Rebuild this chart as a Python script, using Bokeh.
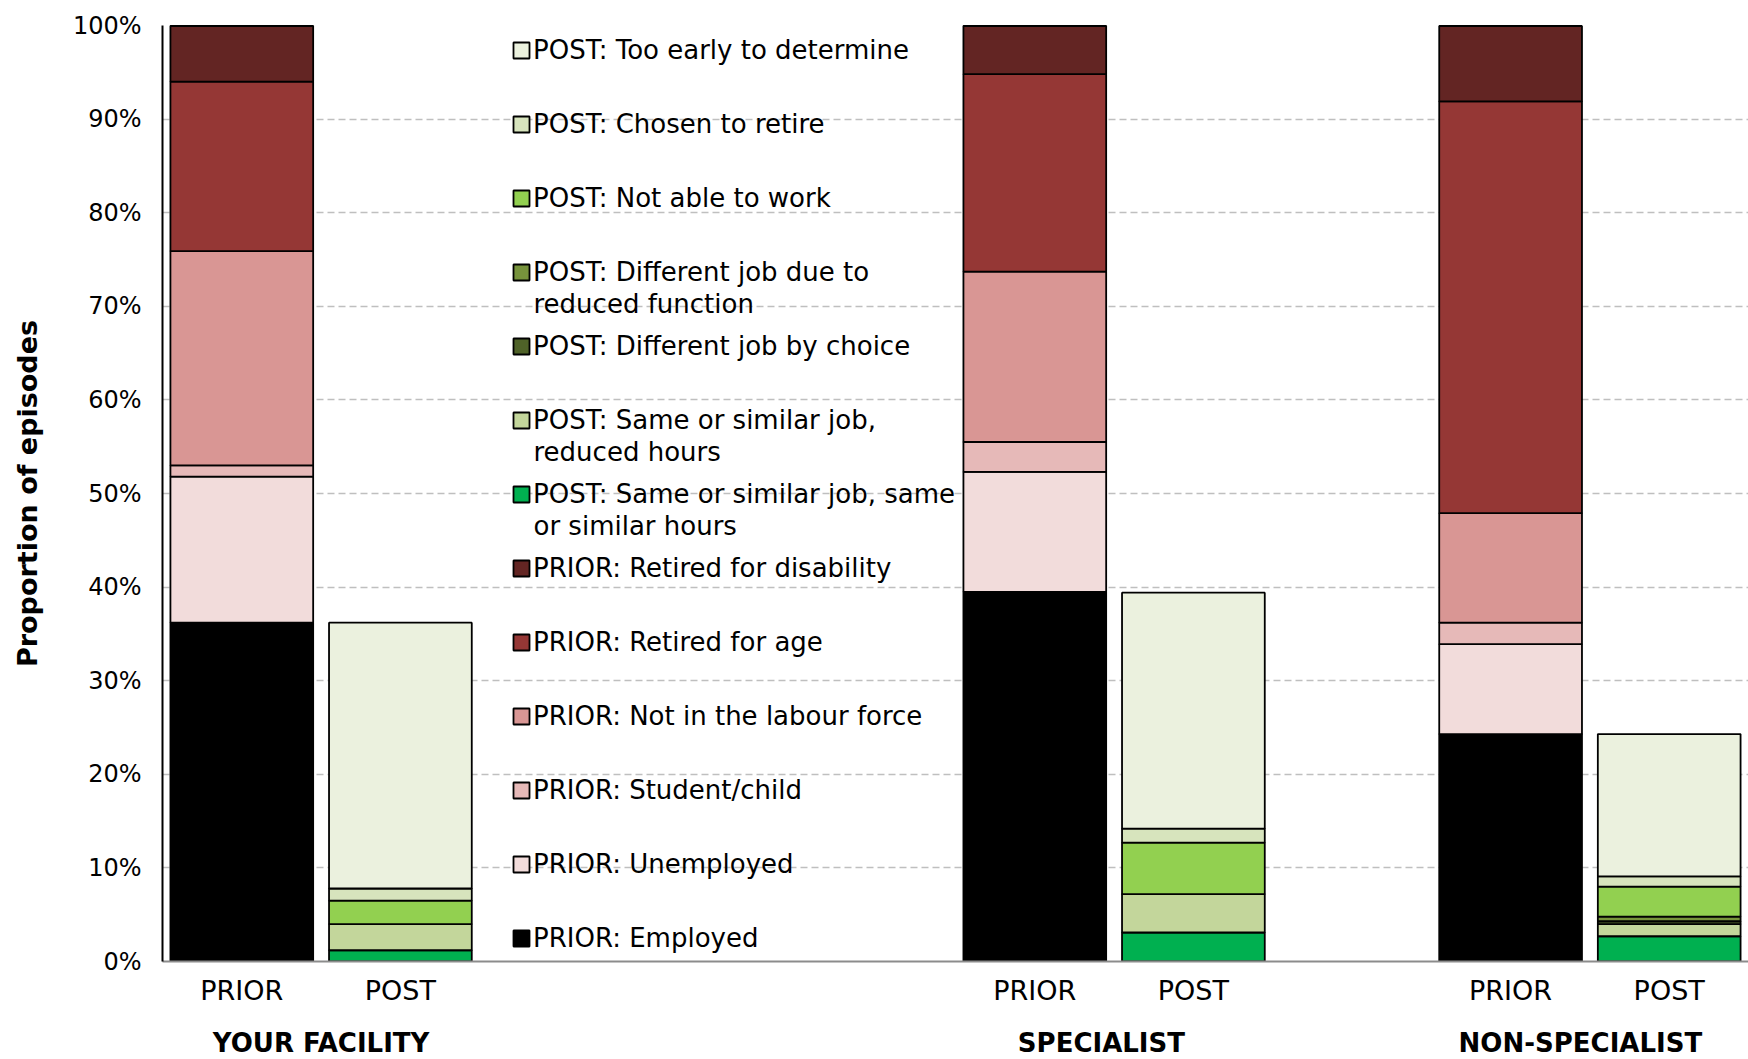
from bokeh.plotting import figure
from bokeh.models import (Range1d, FixedTicker, PrintfTickFormatter, LinearAxis,
                          Legend, LegendItem, ColumnDataSource, Label)
from bokeh.embed import file_html
from bokeh.resources import INLINE

# ---------------- data ----------------
groups = ["YOUR FACILITY", "SPECIALIST", "NON-SPECIALIST"]
periods = ["PRIOR", "POST"]

# PRIOR series (one value per group), % of episodes
prior_employed = [36.2, 39.5, 24.3]
prior_unemployed = [15.6, 12.8, 9.6]
prior_student = [1.2, 3.2, 2.3]
prior_not_labour = [22.9, 18.2, 11.7]
prior_retired_age = [18.1, 21.1, 44.0]
prior_retired_disability = [6.0, 5.2, 8.1]

# POST series (one value per group), % of episodes
post_same_hours = [1.2, 3.1, 2.7]
post_reduced_hours = [2.8, 4.1, 1.3]
post_diff_choice = [0.0, 0.0, 0.3]
post_diff_function = [0.0, 0.0, 0.5]
post_not_able = [2.5, 5.5, 3.2]
post_chosen_retire = [1.3, 1.5, 1.1]
post_too_early = [28.4, 25.2, 15.2]

# legend labels (first line, optional second line)
series_labels = [
    ("PRIOR: Employed", None),
    ("PRIOR: Unemployed", None),
    ("PRIOR: Student/child", None),
    ("PRIOR: Not in the labour force", None),
    ("PRIOR: Retired for age", None),
    ("PRIOR: Retired for disability", None),
    ("POST: Same or similar job, same", "or similar hours"),
    ("POST: Same or similar job,", "reduced hours"),
    ("POST: Different job by choice", None),
    ("POST: Different job due to", "reduced function"),
    ("POST: Not able to work", None),
    ("POST: Chosen to retire", None),
    ("POST: Too early to determine", None),
]
series_colors = [
    "#000000", "#F2DCDB", "#E6B9B8", "#D99694", "#953735", "#632523",
    "#00B050", "#C3D69B", "#4F6228", "#77933C", "#92D050", "#D7E4BD", "#EBF1DE",
]
prior_series = [prior_employed, prior_unemployed, prior_student, prior_not_labour,
                prior_retired_age, prior_retired_disability]
post_series = [post_same_hours, post_reduced_hours, post_diff_choice, post_diff_function,
               post_not_able, post_chosen_retire, post_too_early]

# ---------------- layout (slot positions on the category axis) ----------------
n_slots = 10
group_slot = [0, 5, 8]          # first slot of each group (blank slots hold the legend)
group_label_shift = [0.0, -0.08, -0.06]
x_pos = []
for g in group_slot:
    x_pos += [g + 0.5, g + 1.5]
bar_names = [periods[0], periods[1]] * len(groups)

data = {"x": x_pos}
keys = []
for i, s in enumerate(prior_series):
    k = f"s{i}"
    vals = []
    for v in s:
        vals += [v, 0.0]
    data[k] = vals
    keys.append(k)
for j, s in enumerate(post_series):
    k = f"s{len(prior_series) + j}"
    vals = []
    for v in s:
        vals += [0.0, v]
    data[k] = vals
    keys.append(k)
source = ColumnDataSource(data)

FONT = "DejaVu Sans"
FRAME_W, FRAME_H = 1586, 936

p = figure(frame_width=FRAME_W, frame_height=FRAME_H,
           x_range=Range1d(0, n_slots), y_range=Range1d(0, 100),
           output_backend="svg", toolbar_location=None,
           min_border_left=162, min_border_right=0, min_border_top=25,
           min_border_bottom=0, x_axis_location=None, y_axis_location="left")
p.outline_line_color = None
p.background_fill_color = "white"
p.border_fill_color = "white"

renderers = p.vbar_stack(keys, x="x", width=0.9, source=source,
                         fill_color=series_colors, line_color="black", line_width=1.8)

# y axis
ya = p.yaxis[0]
ya.ticker = FixedTicker(ticks=list(range(0, 101, 10)))
ya.formatter = PrintfTickFormatter(format="%d%%")
ya.major_tick_line_color = None
ya.minor_tick_line_color = None
ya.major_tick_out = 0
ya.major_label_standoff = 21
ya.major_label_text_font = FONT
ya.major_label_text_font_size = "24px"
ya.major_label_text_color = "black"
ya.axis_line_color = "black"
ya.axis_line_width = 2
ya.axis_label = "Proportion of episodes"
ya.axis_label_text_font = FONT
ya.axis_label_text_font_style = "bold"
ya.axis_label_text_font_size = "27px"
ya.axis_label_text_color = "black"
ya.axis_label_standoff = 27

# grid
p.xgrid.grid_line_color = None
p.ygrid.ticker = FixedTicker(ticks=list(range(10, 101, 10)))
p.ygrid.grid_line_color = "#BFBFBF"
p.ygrid.grid_line_dash = "7 4"
p.ygrid.grid_line_width = 1.3

# x axis: PRIOR / POST
xa = LinearAxis(ticker=FixedTicker(ticks=x_pos),
                major_label_overrides={x: n for x, n in zip(x_pos, bar_names)})
xa.major_tick_line_color = None
xa.minor_tick_line_color = None
xa.major_tick_out = 0
xa.major_label_standoff = 13
xa.major_label_text_font = FONT
xa.major_label_text_font_size = "27px"
xa.major_label_text_color = "black"
xa.axis_line_color = "#8C8C8C"
xa.axis_line_width = 2
p.add_layout(xa, "below")

# x axis: group names
group_centers = [g + 1.0 + d for g, d in zip(group_slot, group_label_shift)]
xg = LinearAxis(ticker=FixedTicker(ticks=group_centers),
                major_label_overrides={x: n for x, n in zip(group_centers, groups)})
xg.major_tick_line_color = None
xg.minor_tick_line_color = None
xg.major_tick_out = 0
xg.major_label_standoff = 19
xg.major_label_text_font = FONT
xg.major_label_text_font_style = "bold"
xg.major_label_text_font_size = "26px"
xg.major_label_text_color = "black"
xg.axis_line_color = None
p.add_layout(xg, "below")

# legend (top to bottom = reverse stacking order)
LEG_X, LEG_Y = 349, -8
GLYPH, STANDOFF, ITEM_H, SPACING = 20, 2, 62, 12
LINE_GAP = 31
order = list(reversed(range(len(renderers))))
items = [LegendItem(label=series_labels[i][0], renderers=[renderers[i]]) for i in order]
legend = Legend(items=items, location=(LEG_X, LEG_Y), orientation="vertical",
                glyph_width=GLYPH, glyph_height=GLYPH, label_height=ITEM_H, spacing=SPACING,
                label_standoff=STANDOFF, padding=0, margin=0,
                border_line_color=None, background_fill_alpha=0,
                label_text_font=FONT, label_text_font_size="26px",
                label_text_color="black")
p.add_layout(legend)

# second lines of the two-line legend labels
n_items = len(order)
leg_h = n_items * ITEM_H + (n_items - 1) * SPACING
for pos, i in enumerate(order):
    second = series_labels[i][1]
    if second:
        yc = LEG_Y + leg_h - (pos * (ITEM_H + SPACING) + ITEM_H / 2)
        p.add_layout(Label(x=LEG_X + GLYPH + STANDOFF, y=yc - LINE_GAP,
                           x_units="screen", y_units="screen", text=second,
                           text_font=FONT, text_font_size="26px", text_color="black",
                           text_baseline="middle", text_align="left"))

open("out.html", "w").write(file_html(p, INLINE))
